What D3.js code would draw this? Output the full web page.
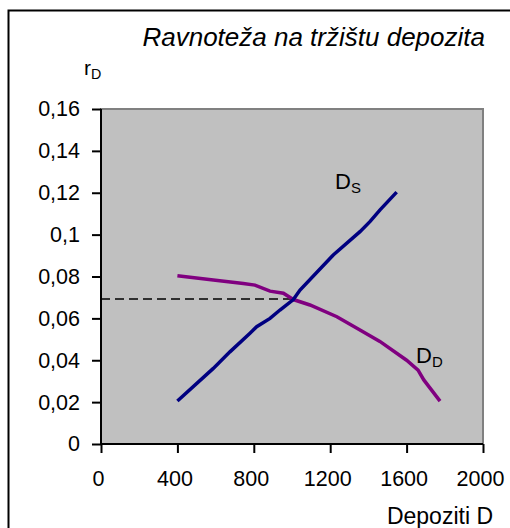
<!DOCTYPE html>
<html>
<head>
<meta charset="utf-8">
<script src="https://cdn.jsdelivr.net/npm/d3@7"></script>
<style>
  body { margin: 0; background: #fff; }
  text { font-family: "Liberation Sans", Arial, sans-serif; fill: #000; }
</style>
</head>
<body>
<div id="chart"></div>
<script>
// supply of deposits (D_S)
var supplyD = [400, 588, 675, 780, 815, 885, 937, 1007, 1042, 1216, 1356, 1408, 1461, 1548];
var supplyR = [0.0205, 0.0361, 0.044, 0.0529, 0.056, 0.060, 0.064, 0.069, 0.0735, 0.0903, 0.1014, 0.1062, 0.1118, 0.1203];
// demand for deposits (D_D)
var demandD = [400, 588, 745, 806, 885, 955, 1007, 1094, 1235, 1340, 1460, 1600, 1660, 1690, 1775];
var demandR = [0.0804, 0.0783, 0.0767, 0.0759, 0.073, 0.072, 0.069, 0.0664, 0.0608, 0.0553, 0.049, 0.040, 0.0353, 0.0306, 0.0205];
var eqD = 1007, eqR = 0.0692;
var xTicks = [0, 400, 800, 1200, 1600, 2000];
var yTicks = [0, 0.02, 0.04, 0.06, 0.08, 0.1, 0.12, 0.14, 0.16];

var width = 510, height = 528;
var mLeft = 101, mRight = 483, mTop = 109, mBottom = 444;

var svg = d3.select("#chart").append("svg")
    .attr("width", width).attr("height", height);

// outer frame
svg.append("rect")
    .attr("x", 8.5).attr("y", 10.5)
    .attr("width", 520).attr("height", 540)
    .attr("fill", "none").attr("stroke", "#000").attr("stroke-width", 2);

var x = d3.scaleLinear().domain([0, 2000]).range([mLeft, mRight]);
var y = d3.scaleLinear().domain([0, 0.16]).range([mBottom, mTop]);

svg.append("rect")
    .attr("x", mLeft).attr("y", mTop)
    .attr("width", mRight - mLeft).attr("height", mBottom - mTop)
    .attr("fill", "#c0c0c0").attr("stroke", "#808080").attr("stroke-width", 2);

var fmt = function(d) { return String(d).replace(".", ","); };

var yAxis = svg.append("g")
    .attr("transform", "translate(" + mLeft + ",0)")
    .call(d3.axisLeft(y).tickValues(yTicks).tickSize(9).tickPadding(12).tickFormat(fmt));
var xAxis = svg.append("g")
    .attr("transform", "translate(0," + mBottom + ")")
    .call(d3.axisBottom(x).tickValues(xTicks).tickSize(9).tickPadding(18).tickFormat(d3.format("d")));

[yAxis, xAxis].forEach(function(g) {
  g.attr("font-size", null).attr("font-family", null);
  g.select(".domain").attr("stroke", "#000").attr("stroke-width", 2);
  g.selectAll(".tick line").attr("stroke", "#000").attr("stroke-width", 2);
  g.selectAll("text").style("font-size", "21.5px").attr("fill", "#000");
});
yAxis.select(".domain").attr("d", "M0," + mBottom + "V" + mTop);
xAxis.select(".domain").attr("d", "M" + mLeft + ",0H" + mRight);
xAxis.selectAll(".tick text").attr("dx", -3);

// equilibrium dashed line
svg.append("line")
    .attr("x1", x(0)).attr("x2", x(eqD))
    .attr("y1", y(eqR)).attr("y2", y(eqR))
    .attr("stroke", "#000").attr("stroke-width", 1.5)
    .attr("stroke-dasharray", "9,5");

var line = d3.line().x(function(d) { return x(d[0]); }).y(function(d) { return y(d[1]); });

svg.append("path")
    .datum(demandD.map(function(d, i) { return [d, demandR[i]]; }))
    .attr("d", line).attr("fill", "none")
    .attr("stroke", "#800080").attr("stroke-width", 3.5);

svg.append("path")
    .datum(supplyD.map(function(d, i) { return [d, supplyR[i]]; }))
    .attr("d", line).attr("fill", "none")
    .attr("stroke", "#000080").attr("stroke-width", 3.5);

// labels
function sublabel(px, py, main, sub, size) {
  var t = svg.append("text").attr("x", px).attr("y", py).style("font-size", size + "px");
  t.append("tspan").text(main);
  t.append("tspan").attr("dy", 4).style("font-size", (size * 0.68) + "px").text(sub);
}
sublabel(335, 189, "D", "S", 22);
sublabel(416, 363, "D", "D", 22);
sublabel(84, 75, "r", "D", 21);

svg.append("text")
    .attr("x", 485).attr("y", 46)
    .attr("text-anchor", "end")
    .style("font-size", "26px").style("font-style", "italic")
    .text("Ravnoteža na tržištu depozita");

svg.append("text")
    .attr("x", 493).attr("y", 524)
    .attr("text-anchor", "end")
    .style("font-size", "23px")
    .text("Depoziti D");
</script>
</body>
</html>
